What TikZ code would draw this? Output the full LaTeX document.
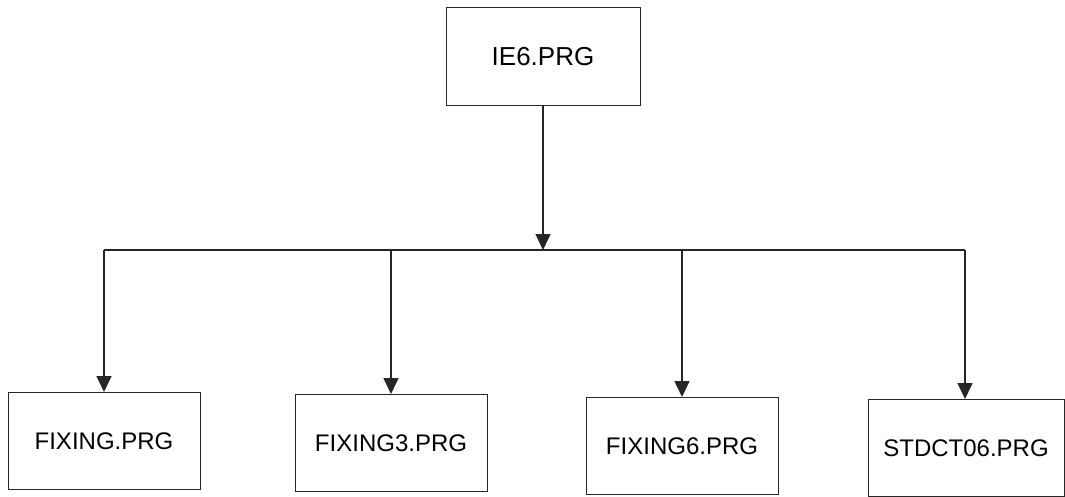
\documentclass[tikz,border=0pt]{standalone}
\usepackage{fontspec}
\setmainfont{Liberation Sans}
\usetikzlibrary{arrows.meta}
\begin{document}
\begin{tikzpicture}[x=1pt,y=-1pt,
  prgbox/.style={draw=black!85, line width=1pt, minimum width=192pt, minimum height=97pt, inner sep=0pt, font=\fontsize{24}{28}\selectfont},
  topbox/.style={prgbox, minimum width=194pt, minimum height=98pt, font=\fontsize{26}{30}\selectfont},
  link/.style={draw=black!85, line width=1.6pt, -{Triangle[width=15pt,length=16pt]}},
  bus/.style={draw=black!85, line width=1.6pt}]
\useasboundingbox (0,0) rectangle (1065,497);
\node[topbox] (top) at (543,57) {IE6.PRG};
\node[prgbox] (b1) at (104,441) {FIXING.PRG};
\node[prgbox] (b2) at (391,443) {FIXING3.PRG};
\node[prgbox] (b3) at (682,446) {FIXING6.PRG};
\node[prgbox, minimum width=196pt] (b4) at (966,448) {STDCT06.PRG};
\coordinate (j) at (543,250);
\coordinate (jl) at (104,250);
\coordinate (jr) at (965,250);
\draw[bus] (jl) -- (jr);
\draw[link] (top) -- (j);
\draw[link] (jl) -- (b1.north);
\draw[link] (b2.north |- j) -- (b2.north);
\draw[link] (b3.north |- j) -- (b3.north);
\draw[link] (jr) -- (jr |- b4.north);
\end{tikzpicture}
\end{document}
